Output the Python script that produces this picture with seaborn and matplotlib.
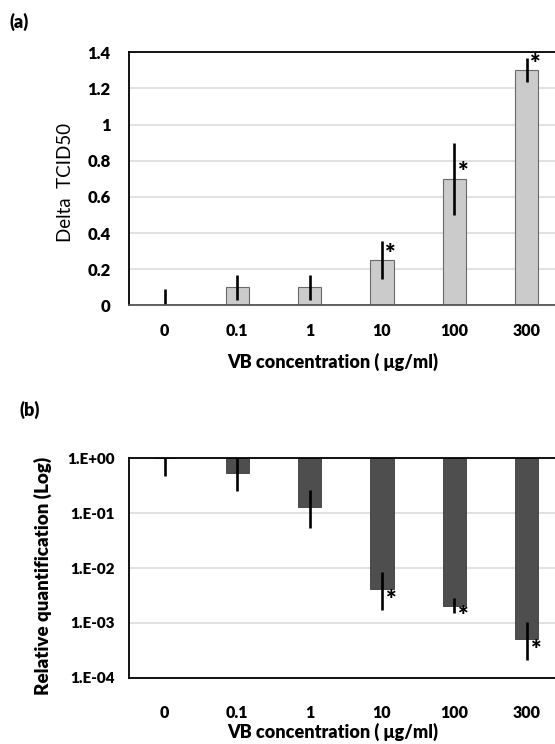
import numpy as np
import pandas as pd
import seaborn as sns
import matplotlib.pyplot as plt

CONC = ['0', '0.1', '1', '10', '100', '300']
TCID = [0, 0.1, 0.1, 0.25, 0.7, 1.3]
TCID_ERR = [0.09, 0.068, 0.07, 0.105, 0.2, 0.067]
RQ = [1.0, 0.53, 0.13, 0.0041, 0.00205, 0.0005]
RQ_ERR_HI = [1.0, 1.0, 0.26, 0.0085, 0.0028, 0.00105]
RQ_ERR_LO = [0.48, 0.25, 0.053, 0.0017, 0.0015, 0.00021]
SIGNIF = [False, False, False, True, True, True]
RQ_TICKS = ['1.E+00', '1.E-01', '1.E-02', '1.E-03', '1.E-04']

sns.set_theme(style='white')
plt.rcParams['font.family'] = ['Lato', 'DejaVu Sans']
plt.rcParams['text.color'] = 'black'
plt.rcParams['xtick.color'] = 'black'
plt.rcParams['ytick.color'] = 'black'
BOLD = 'heavy'

W, H = 555, 744
fig = plt.figure(figsize=(W / 100, H / 100), dpi=100)


def box(l, t, r, b):
    # pixel box -> figure fraction
    return [l / W, 1 - b / H, (r - l) / W, (b - t) / H]


ax1 = fig.add_axes(box(128.5, 52.3, 563, 305.3))
ax2 = fig.add_axes(box(128.5, 458.3, 563, 677.7))
x = np.arange(len(CONC))

# (a) Delta TCID50
df1 = pd.DataFrame({'conc': CONC, 'tcid': TCID})
sns.barplot(data=df1, x='conc', y='tcid', ax=ax1, color='#cbcbcb', saturation=1,
            width=0.32, edgecolor='#6a6a6a', linewidth=0.8, errorbar=None)
ax1.errorbar(x, TCID, yerr=TCID_ERR, fmt='none', ecolor='black', elinewidth=1.9, capsize=0)
for i, (v, s) in enumerate(zip(TCID, SIGNIF)):
    if s:
        ax1.text(i + 0.12, v + 0.035, '*', ha='center', va='center', fontsize=18, fontweight=BOLD)
ax1.set_ylim(0, 1.4)
ax1.set_xlim(-0.5, 5.5)
ticks1 = np.round(np.arange(0, 1.41, 0.2), 1)
ax1.set_yticks(ticks1)
ax1.set_yticklabels([f'{t:g}' for t in ticks1])

# (b) relative quantification, log depth from 1
depth = -np.log10(RQ)
err_top = depth + np.log10(RQ_ERR_HI)
err_bot = -np.log10(RQ_ERR_LO) - depth
df2 = pd.DataFrame({'conc': CONC, 'depth': depth})
sns.barplot(data=df2, x='conc', y='depth', ax=ax2, color='#4e4e4e', saturation=1,
            width=0.32, edgecolor='#3a3a3a', linewidth=0.6, errorbar=None)
ax2.errorbar(x, depth, yerr=[err_top, err_bot], fmt='none', ecolor='black', elinewidth=1.9, capsize=0)
for i, (d, s) in enumerate(zip(depth, SIGNIF)):
    if s:
        ax2.text(i + 0.13, d + 0.19, '*', ha='center', va='center', fontsize=18, fontweight=BOLD)
ax2.set_ylim(4, 0)
ax2.set_xlim(-0.5, 5.5)
ax2.set_yticks(range(5))
ax2.set_yticklabels(RQ_TICKS)

for ax, ypad, xpad, ysize in [(ax1, 13, 13, 12), (ax2, 10, 20, 11)]:
    ax.set_axisbelow(True)
    ax.yaxis.grid(True, color='#dcdcdc', linewidth=1.2)
    ax.set_xlabel('')
    ax.set_ylabel('')
    ax.tick_params(axis='y', length=0, pad=ypad, labelsize=ysize)
    ax.tick_params(axis='x', length=0, pad=xpad, labelsize=11.5)
    for lab in ax.get_xticklabels() + ax.get_yticklabels():
        lab.set_fontweight(BOLD)
    for side in ['top', 'left', 'right', 'bottom']:
        ax.spines[side].set_color('black')
        ax.spines[side].set_linewidth(1.3)
ax1.spines['bottom'].set_color('#555555')

fig.text(10 / W, 1 - 21.7 / H, '(a)', fontsize=13, fontweight=BOLD, va='center')
fig.text(19 / W, 1 - 410 / H, '(b)', fontsize=13, fontweight=BOLD, va='center')
fig.text(65.5 / W, 1 - 182.5 / H, 'Delta  TCID50', fontsize=13.5, rotation=90, ha='center', va='center')
fig.text(42.5 / W, 1 - 575.8 / H, 'Relative quantification (Log)', fontsize=13.5, fontweight=BOLD,
         rotation=90, ha='center', va='center')
fig.text(333 / W, 1 - 362 / H, 'VB concentration ( μg/ml)', fontsize=13, fontweight=BOLD,
         ha='center', va='center')
fig.text(333 / W, 1 - 731.7 / H, 'VB concentration ( μg/ml)', fontsize=13, fontweight=BOLD,
         ha='center', va='center')

fig.savefig('out.png', dpi=100)
